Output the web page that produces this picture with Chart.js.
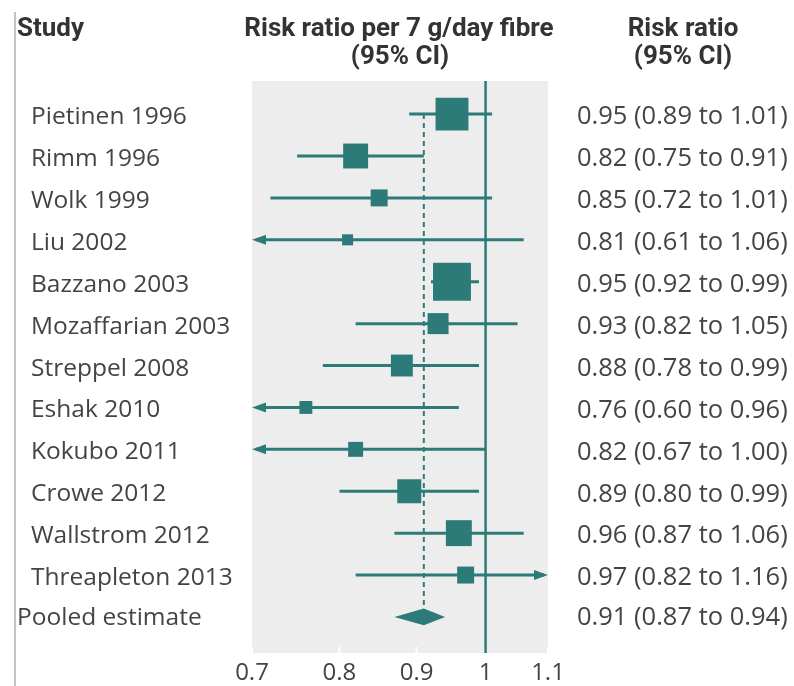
<!DOCTYPE html>
<html>
<head>
<meta charset="utf-8">
<script src="https://cdn.jsdelivr.net/npm/chart.js@4"></script>
<style>
  html, body { margin: 0; padding: 0; background: #fff; }
  #wrap { width: 794px; height: 686px; }
</style>
</head>
<body>
<div id="wrap"><canvas id="forest" width="794" height="686"></canvas></div>
<script>
// ===== Data =====
const studies = ['Pietinen 1996', 'Rimm 1996', 'Wolk 1999', 'Liu 2002', 'Bazzano 2003',
    'Mozaffarian 2003', 'Streppel 2008', 'Eshak 2010', 'Kokubo 2011', 'Crowe 2012',
    'Wallstrom 2012', 'Threapleton 2013'];
const riskRatio = [0.95, 0.82, 0.85, 0.81, 0.95, 0.93, 0.88, 0.76, 0.82, 0.89, 0.96, 0.97];
const lowerCI = [0.89, 0.75, 0.72, 0.61, 0.92, 0.82, 0.78, 0.60, 0.67, 0.80, 0.87, 0.82];
const upperCI = [1.01, 0.91, 1.01, 1.06, 0.99, 1.05, 0.99, 0.96, 1.00, 0.99, 1.06, 1.16];
const weights = [16.9, 9.7, 4.5, 1.9, 22.5, 6.9, 7.5, 2.6, 3.5, 9.0, 10.5, 4.5]; // % weight (box area)
const pooledLabel = 'Pooled estimate';
const pooled = [0.91, 0.87, 0.94]; // estimate, lower, upper
const xTicks = [0.7, 0.8, 0.9, 1, 1.1];

const TEAL = '#2d7b79';
const TEXT = '#444444';
const fmt = v => v.toFixed(2);

// gray panel, reference lines, CI lines, diamond
const forestMarks = {
    id: 'forestMarks',
    beforeDatasetsDraw(chart) {
        const { ctx, chartArea: a, scales: { x, y } } = chart;
        ctx.save();
        ctx.fillStyle = '#ededed';
        ctx.fillRect(a.left, a.top, a.right - a.left, a.bottom - a.top);

        // small white ticks at the bottom of the panel
        ctx.strokeStyle = '#ffffff';
        ctx.lineWidth = 2;
        xTicks.forEach(t => {
            const tx = x.getPixelForValue(t);
            ctx.beginPath();
            ctx.moveTo(tx, a.bottom - 6);
            ctx.lineTo(tx, a.bottom);
            ctx.stroke();
        });

        // line of no effect
        ctx.strokeStyle = TEAL;
        ctx.lineWidth = 2.5;
        ctx.beginPath();
        ctx.moveTo(x.getPixelForValue(1), a.top);
        ctx.lineTo(x.getPixelForValue(1), a.bottom);
        ctx.stroke();

        // pooled estimate dashed line
        const px = x.getPixelForValue(pooled[0]);
        ctx.lineWidth = 2;
        ctx.setLineDash([5, 4]);
        ctx.beginPath();
        ctx.moveTo(px, y.getPixelForValue(0));
        ctx.lineTo(px, y.getPixelForValue(studies.length - 0.2));
        ctx.stroke();
        ctx.setLineDash([]);

        // confidence intervals
        ctx.lineWidth = 3;
        ctx.fillStyle = TEAL;
        studies.forEach((s, i) => {
            const yy = y.getPixelForValue(i);
            const lo = Math.max(lowerCI[i], x.min);
            const hi = Math.min(upperCI[i], x.max);
            const x0 = x.getPixelForValue(lo), x1 = x.getPixelForValue(hi);
            ctx.beginPath();
            ctx.moveTo(x0 + (lowerCI[i] < x.min ? 4 : 0), yy);
            ctx.lineTo(x1 - (upperCI[i] > x.max ? 4 : 0), yy);
            ctx.stroke();
            if (lowerCI[i] < x.min) arrow(ctx, x0, yy, 1);
            if (upperCI[i] > x.max) arrow(ctx, x1, yy, -1);
        });

        // pooled diamond
        const yp = studies.length;
        ctx.beginPath();
        ctx.moveTo(x.getPixelForValue(pooled[1]), y.getPixelForValue(yp));
        ctx.lineTo(x.getPixelForValue(pooled[0]), y.getPixelForValue(yp - 0.2));
        ctx.lineTo(x.getPixelForValue(pooled[2]), y.getPixelForValue(yp));
        ctx.lineTo(x.getPixelForValue(pooled[0]), y.getPixelForValue(yp + 0.2));
        ctx.closePath();
        ctx.fill();
        ctx.restore();
    },
    afterDraw(chart) {
        const { ctx, scales: { y } } = chart;
        ctx.save();
        // left border line of the figure
        ctx.strokeStyle = '#c4c4c4';
        ctx.lineWidth = 2;
        ctx.beginPath();
        ctx.moveTo(15, 12);
        ctx.lineTo(15, 686);
        ctx.stroke();

        ctx.fillStyle = '#333';
        ctx.font = 'bold 26px Roboto';
        ctx.textBaseline = 'middle';
        ctx.textAlign = 'left';
        ctx.fillText('Study', 17, 29);
        ctx.textAlign = 'center';
        ctx.fillText('Risk ratio per 7 g/day fibre', 399, 29);
        ctx.fillText('(95% CI)', 400, 57);
        ctx.fillText('Risk ratio', 683, 29);
        ctx.fillText('(95% CI)', 683, 57);

        ctx.fillStyle = TEXT;
        ctx.textAlign = 'left';
        studies.forEach((s, i) => {
            const yy = y.getPixelForValue(i) + 3;
            ctx.font = '24.5px "Open Sans"';
            ctx.fillText(s, 31, yy);
            ctx.font = '25.5px "Open Sans"';
            ctx.fillText(`${fmt(riskRatio[i])} (${fmt(lowerCI[i])} to ${fmt(upperCI[i])})`, 577, yy);
        });
        const yp = y.getPixelForValue(studies.length) + 1;
        ctx.font = '24.5px "Open Sans"';
        ctx.fillText(pooledLabel, 17, yp);
        ctx.font = '25.5px "Open Sans"';
        ctx.fillText(`${fmt(pooled[0])} (${fmt(pooled[1])} to ${fmt(pooled[2])})`, 577, yp);
        ctx.restore();
    }
};

function arrow(ctx, tipX, yy, dir) {
    ctx.beginPath();
    ctx.moveTo(tipX, yy);
    ctx.lineTo(tipX + dir * 14, yy - 5);
    ctx.lineTo(tipX + dir * 14, yy + 5);
    ctx.closePath();
    ctx.fill();
}

new Chart(document.getElementById('forest').getContext('2d'), {
    type: 'scatter',
    data: {
        datasets: [{
            label: 'Risk ratio',
            data: riskRatio.map((v, i) => ({ x: v, y: i })),
            pointStyle: 'rect',
            // box area proportional to weight; rect side = radius * sqrt(2)
            pointRadius: weights.map(w => 4 * Math.sqrt(w) * Math.SQRT2),
            pointHoverRadius: weights.map(w => 4 * Math.sqrt(w) * Math.SQRT2),
            backgroundColor: TEAL,
            borderWidth: 0
        }]
    },
    options: {
        responsive: false,
        animation: false,
        layout: { padding: { left: 252, right: 246, top: 81, bottom: 0 } },
        plugins: { legend: { display: false }, tooltip: { enabled: false } },
        scales: {
            x: {
                type: 'logarithmic',
                min: 0.7,
                max: 1.1,
                afterBuildTicks: scale => { scale.ticks = xTicks.map(v => ({ value: v })); },
                afterFit: scale => { scale.height = 33; },
                grid: { display: false },
                border: { display: false },
                ticks: {
                    autoSkip: false,
                    maxRotation: 0,
                    padding: -2,
                    color: TEXT,
                    font: { family: 'Open Sans', size: 24 },
                    callback: v => String(v)
                }
            },
            y: {
                type: 'linear',
                reverse: true,
                min: -0.79,
                max: 12.86,
                display: false
            }
        }
    },
    plugins: [forestMarks]
});
</script>
</body>
</html>
